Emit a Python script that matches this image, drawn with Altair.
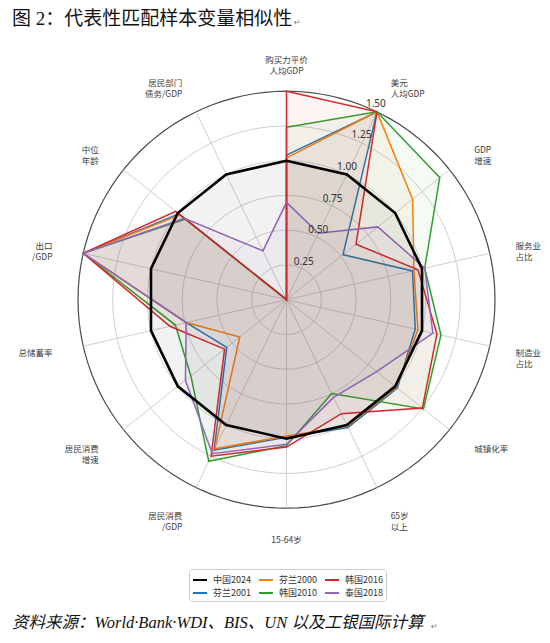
import math
import altair as alt
import pandas as pd

TITLE = "图 2：代表性匹配样本变量相似性"
SOURCE = "资料来源：World·Bank·WDI、BIS、UN 以及工银国际计算"
PARA_MARK = "↵"

axis_labels = ["购买力平价\n人均GDP", "美元\n人均GDP", "GDP\n增速", "服务业\n占比", "制造业\n占比",
               "城镇化率", "65岁\n以上", "15-64岁", "居民消费\n/GDP", "居民消费\n增速",
               "总储蓄率", "出口\n/GDP", "中位\n年龄", "居民部门\n债务/GDP"]

series_names = ["中国2024", "芬兰2001", "芬兰2000", "韩国2010", "韩国2016", "泰国2018"]
series_colors = ["#000000", "#1f77b4", "#ff7f0e", "#2ca02c", "#d62728", "#9467bd"]

china_2024    = [1.00, 1.00, 1.00, 1.00, 1.00, 1.00, 1.00, 1.00, 1.00, 1.00, 1.00, 1.00, 1.00, 1.00]
finland_2001  = [1.04, 1.50, 0.52, 0.93, 0.95, 1.02, 1.02, 0.99, 1.20, 0.55, 0.74, 1.50, 0.99, 0.00]
finland_2000  = [1.02, 1.50, 1.16, 0.94, 0.97, 1.01, 1.01, 0.98, 1.19, 0.43, 0.74, 1.50, 0.98, 0.00]
korea_2010    = [1.24, 1.50, 1.41, 1.02, 1.14, 1.26, 0.75, 1.05, 1.29, 0.88, 0.82, 1.50, 0.93, 0.00]
korea_2016    = [1.50, 1.50, 0.64, 0.97, 1.11, 1.25, 0.91, 1.06, 1.25, 0.57, 0.86, 1.50, 1.02, 0.00]
thailand_2018 = [0.70, 0.53, 0.84, 1.02, 1.08, 0.83, 0.78, 1.04, 1.23, 0.93, 0.74, 1.50, 0.94, 0.39]

series_values = [china_2024, finland_2001, finland_2000, korea_2010, korea_2016, thailand_2018]
draw_order = ["芬兰2001", "芬兰2000", "韩国2010", "韩国2016", "泰国2018", "中国2024"]

tick_values = [0.25, 0.50, 0.75, 1.00, 1.25, 1.50]
tick_texts = ["0.25", "0.50", "0.75", "1.00", "1.25", "1.50"]

# ---------------- geometry ----------------
N = len(axis_labels)
R_MAX = 1.5
UNIT = 139.0
W, H = 534, 627
CX, CY = 278.5, 291.7
xs = alt.Scale(domain=[-CX / UNIT, (W - CX) / UNIT], nice=False, zero=False)
ys = alt.Scale(domain=[-(H - CY) / UNIT, CY / UNIT], nice=False, zero=False)
LABEL_FS = 8.5


def ang(i):
    return 2 * math.pi * i / N


def X(field):
    return alt.X(field, type="quantitative", scale=xs, axis=None)


def Y(field):
    return alt.Y(field, type="quantitative", scale=ys, axis=None)


# grid circles
circ_rows = []
for r in tick_values:
    for k in range(0, 361, 3):
        a = math.radians(k)
        circ_rows.append({"r": r, "k": k, "x": r * math.sin(a), "y": r * math.cos(a)})
circ = pd.DataFrame(circ_rows)

inner = alt.Chart(circ[circ.r < R_MAX]).mark_line(stroke="#cfcfcf", strokeWidth=1).encode(
    x=X("x"), y=Y("y"), detail="r:N", order="k:Q")
outer = alt.Chart(circ[circ.r == R_MAX]).mark_line(stroke="#4a4a4a", strokeWidth=1.2).encode(
    x=X("x"), y=Y("y"), order="k:Q")

spokes = pd.DataFrame([{"x0": 0.0, "y0": 0.0,
                        "x1": R_MAX * math.sin(ang(i)), "y1": R_MAX * math.cos(ang(i))}
                       for i in range(N)])
spoke_layer = alt.Chart(spokes).mark_rule(stroke="#cfcfcf", strokeWidth=1).encode(
    x=X("x0"), y=Y("y0"), x2="x1", y2="y1")

# series (legend fills column by column, so series order gives the reference layout)
color_scale = alt.Scale(domain=series_names, range=series_colors)
legend = alt.Legend(title=None, orient="none", legendX=181, legendY=561, columns=3,
                    symbolType="stroke", symbolSize=196, symbolStrokeWidth=2,
                    labelFont="Noto Sans CJK SC", labelFontSize=9, labelColor="#333333",
                    labelOffset=5, columnPadding=4, rowPadding=0, padding=3,
                    strokeColor="#cccccc", fillColor="white", cornerRadius=3)

series_layers = []
for name in draw_order:
    vals = series_values[series_names.index(name)]
    col = series_colors[series_names.index(name)]
    rows = []
    for k in range(N + 1):
        i = k % N
        rows.append({"series": name, "k": k,
                     "x": vals[i] * math.sin(ang(i)), "y": vals[i] * math.cos(ang(i))})
    df = pd.DataFrame(rows)
    sw = 2.6 if name == "中国2024" else 1.5
    series_layers.append(
        alt.Chart(df).mark_line(strokeWidth=sw, fill=col, fillOpacity=0.05, strokeJoin="miter").encode(
            x=X("x"), y=Y("y"), order="k:Q",
            color=alt.Color("series:N", scale=color_scale, legend=legend)))

# tick labels
TICK_ANG = math.radians(24.5)
ticks = pd.DataFrame({"t": tick_texts,
                      "x": [(v + 0.05) * math.sin(TICK_ANG) for v in tick_values],
                      "y": [(v + 0.05) * math.cos(TICK_ANG) for v in tick_values]})
tick_layer = alt.Chart(ticks).mark_text(font="Noto Sans", fontSize=10, color="#333333",
                                        align="center", baseline="middle").encode(
    x=X("x"), y=Y("y"), text="t:N")

# axis labels (left-aligned labels are kept inside the drawing's right edge)
LAB_R = 240 / UNIT
x_right_limit = (W - CX - 1) / UNIT
lab_rows = []
for i, lab in enumerate(axis_labels):
    s = math.sin(ang(i))
    side = "center" if abs(s) < 1e-6 else ("left" if s > 0 else "right")
    lines = lab.split("\n")
    x = LAB_R * s
    if side == "left":
        est_w = max(len(l) if not l.isascii() else 0.6 * len(l) for l in lines) * LABEL_FS / UNIT
        x = min(x, x_right_limit - est_w)
    lab_rows.append({"lab": lines, "x": x, "y": LAB_R * math.cos(ang(i)), "side": side})
labs = pd.DataFrame(lab_rows)
label_layers = []
for side in ["left", "center", "right"]:
    label_layers.append(
        alt.Chart(labs[labs.side == side]).mark_text(font="Noto Sans CJK SC", fontSize=LABEL_FS, color="#404040",
                                                     align=side, baseline="middle", lineHeight=11).encode(
            x=X("x"), y=Y("y"), text="lab"))

title_layer = alt.Chart(pd.DataFrame({"t": [TITLE]})).mark_text(
    font="Liberation Serif, Noto Sans CJK SC", fontSize=19, color="#111111",
    align="left", baseline="middle").encode(x=alt.value(4), y=alt.value(11), text="t:N")
title_mark = alt.Chart(pd.DataFrame({"t": [PARA_MARK]})).mark_text(
    font="DejaVu Sans", fontSize=8, color="#777777", align="left", baseline="middle").encode(
    x=alt.value(286), y=alt.value(15), text="t:N")
source_layer = alt.Chart(pd.DataFrame({"t": [SOURCE]})).mark_text(
    font="Liberation Serif, Noto Sans CJK SC", fontSize=16.5, fontStyle="italic", color="#111111",
    align="left", baseline="middle").encode(x=alt.value(4), y=alt.value(615), text="t:N")
source_mark = alt.Chart(pd.DataFrame({"t": [PARA_MARK]})).mark_text(
    font="DejaVu Sans", fontSize=8, color="#777777", align="left", baseline="middle").encode(
    x=alt.value(423), y=alt.value(619), text="t:N")

chart = alt.layer(inner, outer, spoke_layer, *series_layers, tick_layer, *label_layers,
                  title_layer, title_mark, source_layer, source_mark).properties(
    width=W, height=H, autosize=alt.AutoSizeParams(type="none"), padding=0
).configure_view(stroke=None)

chart.save("out.html", embed_options={"renderer": "svg", "actions": False})
